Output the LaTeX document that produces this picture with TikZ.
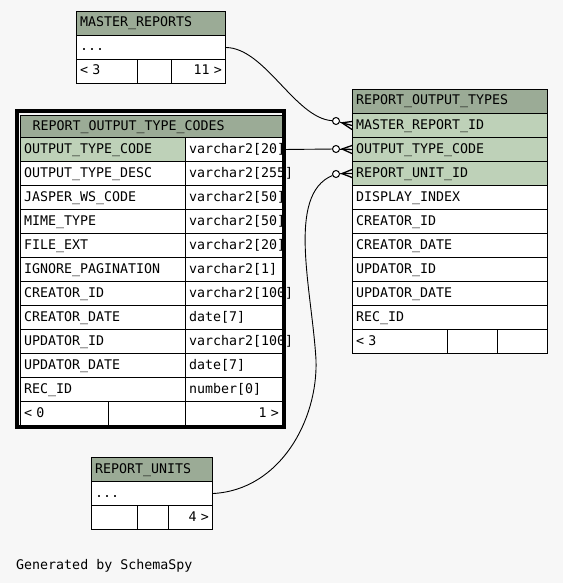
\documentclass[tikz,border=0pt]{standalone}
\usepackage{fontspec}
\newfontfamily\monof{DejaVu Sans Mono}
\usetikzlibrary{calc}
\definecolor{hdr}{HTML}{9BAB96}
\definecolor{keyc}{HTML}{BED1B8}
\definecolor{bgc}{HTML}{F7F7F7}
\tikzset{
  cell/.style={draw=black, line width=1pt, anchor=north west, minimum height=24pt,
    inner xsep=3.5pt, inner ysep=0pt, text height=10pt, text depth=3pt,
    font=\monof\fontsize{13.3}{15}\selectfont},
  conn/.style={draw=black, line width=0.9pt},
  crow/.style={draw=black, line width=1.3pt},
  odot/.style={circle, draw=black, line width=1pt, fill=white, minimum size=7pt, inner sep=0pt},
  gen/.style={anchor=base west, inner sep=0pt, font=\monof\fontsize{13.3}{15}\selectfont}
}
\newcommand\mkcell[7]{\node[cell,fill=#5,minimum width=#4pt,text width=\the\dimexpr#4pt-7pt\relax,align=#6] (#1) at (#2,#3) {#7};}
\begin{document}
\begin{tikzpicture}[x=1pt,y=-1pt]
\fill[bgc] (0,0) rectangle (563,583);
\useasboundingbox (0,0) rectangle (563,583);

% MASTER_REPORTS
\mkcell{mrh}{76}{11}{149}{hdr}{left}{MASTER\_REPORTS}
\mkcell{mrr}{76}{35}{149}{white}{left}{...}
\mkcell{mrfa}{76}{59}{61}{white}{left}{< 3}
\mkcell{mrfb}{137}{59}{34}{white}{left}{}
\mkcell{mrfc}{171}{59}{54}{white}{right}{11 >}

% REPORT_OUTPUT_TYPE_CODES (focus table)
\draw[line width=4pt] (17,111) rectangle (284,427);
\node[cell,fill=hdr,minimum width=262pt,minimum height=22pt,inner xsep=12pt,text width=238pt,align=left] (ch) at (20,115) {REPORT\_OUTPUT\_TYPE\_CODES};
\mkcell{ca1}{20}{137}{165}{keyc}{left}{OUTPUT\_TYPE\_CODE}
\mkcell{cb1}{185}{137}{97}{white}{left}{varchar2[20]}
\mkcell{ca2}{20}{161}{165}{white}{left}{OUTPUT\_TYPE\_DESC}
\mkcell{cb2}{185}{161}{97}{white}{left}{varchar2[255]}
\mkcell{ca3}{20}{185}{165}{white}{left}{JASPER\_WS\_CODE}
\mkcell{cb3}{185}{185}{97}{white}{left}{varchar2[50]}
\mkcell{ca4}{20}{209}{165}{white}{left}{MIME\_TYPE}
\mkcell{cb4}{185}{209}{97}{white}{left}{varchar2[50]}
\mkcell{ca5}{20}{233}{165}{white}{left}{FILE\_EXT}
\mkcell{cb5}{185}{233}{97}{white}{left}{varchar2[20]}
\mkcell{ca6}{20}{257}{165}{white}{left}{IGNORE\_PAGINATION}
\mkcell{cb6}{185}{257}{97}{white}{left}{varchar2[1]}
\mkcell{ca7}{20}{281}{165}{white}{left}{CREATOR\_ID}
\mkcell{cb7}{185}{281}{97}{white}{left}{varchar2[100]}
\mkcell{ca8}{20}{305}{165}{white}{left}{CREATOR\_DATE}
\mkcell{cb8}{185}{305}{97}{white}{left}{date[7]}
\mkcell{ca9}{20}{329}{165}{white}{left}{UPDATOR\_ID}
\mkcell{cb9}{185}{329}{97}{white}{left}{varchar2[100]}
\mkcell{ca10}{20}{353}{165}{white}{left}{UPDATOR\_DATE}
\mkcell{cb10}{185}{353}{97}{white}{left}{date[7]}
\mkcell{ca11}{20}{377}{165}{white}{left}{REC\_ID}
\mkcell{cb11}{185}{377}{97}{white}{left}{number[0]}
\mkcell{cfa}{20}{401}{88}{white}{left}{< 0}
\mkcell{cfb}{108}{401}{77}{white}{left}{}
\mkcell{cfc}{185}{401}{97}{white}{right}{1 >}

% REPORT_OUTPUT_TYPES
\mkcell{th}{352}{89}{195}{hdr}{left}{REPORT\_OUTPUT\_TYPES}
\mkcell{t1}{352}{113}{195}{keyc}{left}{MASTER\_REPORT\_ID}
\mkcell{t2}{352}{137}{195}{keyc}{left}{OUTPUT\_TYPE\_CODE}
\mkcell{t3}{352}{161}{195}{keyc}{left}{REPORT\_UNIT\_ID}
\mkcell{t4}{352}{185}{195}{white}{left}{DISPLAY\_INDEX}
\mkcell{t5}{352}{209}{195}{white}{left}{CREATOR\_ID}
\mkcell{t6}{352}{233}{195}{white}{left}{CREATOR\_DATE}
\mkcell{t7}{352}{257}{195}{white}{left}{UPDATOR\_ID}
\mkcell{t8}{352}{281}{195}{white}{left}{UPDATOR\_DATE}
\mkcell{t9}{352}{305}{195}{white}{left}{REC\_ID}
\mkcell{tfa}{352}{329}{95}{white}{left}{< 3}
\mkcell{tfb}{447}{329}{50}{white}{left}{}
\mkcell{tfc}{497}{329}{50}{white}{left}{}

% REPORT_UNITS
\mkcell{ruh}{91}{457}{121}{hdr}{left}{REPORT\_UNITS}
\mkcell{rur}{91}{481}{121}{white}{left}{...}
\mkcell{rufa}{91}{505}{46}{white}{left}{}
\mkcell{rufb}{137}{505}{31}{white}{left}{}
\mkcell{rufc}{168}{505}{44}{white}{right}{4 >}

% connectors
\node[odot] (o1) at (336,121) {};
\node[odot] (o2) at (336,149) {};
\node[odot] (o3) at (336,174) {};
\coordinate (a1) at (342,122.8);
\coordinate (a2) at (342,149);
\coordinate (a3) at (342,173.6);
\coordinate (m3) at (316,360);

\draw[conn] (mrr.east) .. controls (265,48) and (295,118) .. (o1);
\draw[conn] (cb1.east) -- (o2);
\draw[conn] (rur.east) .. controls (280,490) and (318,420) .. (m3)
  .. controls (312,290) and (286,195) .. (o3);

\draw[conn] (o1) -- (a1);
\draw[conn] (o2) -- (a2);
\draw[conn] (o3) -- (a3);
\draw[crow] ($(t1.west)+(0,-4)$) -- (a1) -- ($(t1.west)+(0,4)$);
\draw[crow] (a1) -- (t1.west);
\draw[crow] ($(t2.west)+(0,-4)$) -- (a2) -- ($(t2.west)+(0,4)$);
\draw[crow] (a2) -- (t2.west);
\draw[crow] ($(t3.west)+(0,-4)$) -- (a3) -- ($(t3.west)+(0,4)$);
\draw[crow] (a3) -- (t3.west);

\node[gen] (g) at (16,569.5) {Generated by SchemaSpy};
\end{tikzpicture}
\end{document}
